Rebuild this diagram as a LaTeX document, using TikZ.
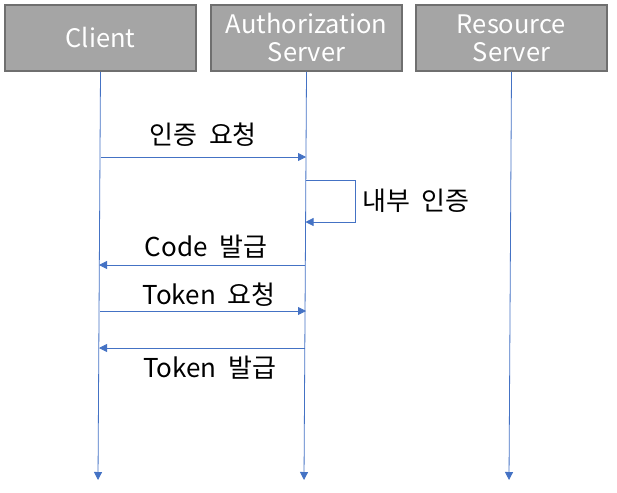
\documentclass[tikz,border=0pt]{standalone}
\usepackage{fontspec}
\setmainfont{Noto Sans CJK KR}
\usetikzlibrary{arrows.meta}
\definecolor{boxfill}{HTML}{A5A5A5}
\definecolor{boxline}{HTML}{6F6F6F}
\definecolor{flow}{HTML}{4472C4}
\newcommand{\wsp}{\hspace{0.45em}}
\tikzset{
  actor/.style={draw=boxline, line width=1.6pt, fill=boxfill, minimum width=191pt, minimum height=66pt,
    text=white, font=\fontsize{25.5}{29}\selectfont, align=center, inner sep=0pt},
  msg/.style={draw=flow, line width=0.8pt, -{Triangle[length=8pt,width=8pt]}},
  lbl/.style={font=\fontsize{26}{30}\selectfont, text=black, inner sep=0pt}
}
\begin{document}
\begin{tikzpicture}[x=1pt,y=-1pt]
\useasboundingbox (0,0) rectangle (617,492);
\node[actor] (client) at (100.5,38) {Client};
\node[actor] (auth) at (306.5,38) {Authorization\\[-1pt]Server};
\node[actor] (res) at (511.5,38) {Resource\\[-1pt]Server};
\coordinate (cb) at (98,480);
\coordinate (ab) at (304,480);
\coordinate (rb) at (509,480);
\draw[msg] (client.south) -- (cb);
\draw[msg] (auth.south) -- (ab);
\draw[msg] (res.south) -- (rb);
% messages
\coordinate (c1) at (100.5,157); \coordinate (a1) at (306,157);
\draw[msg] (c1) -- (a1) node[lbl, midway, above=10pt] {인증\wsp 요청};
\coordinate (a2s) at (306,180); \coordinate (l1) at (355,180); \coordinate (l2) at (355,222); \coordinate (a2e) at (305.5,222);
\draw[msg] (a2s) -- (l1) -- (l2) -- (a2e);
\node[lbl, anchor=west] (self) at (362,201) {내부\wsp 인증};
\coordinate (a3) at (305,265); \coordinate (c3) at (99,265);
\draw[msg] (a3) -- (c3) node[lbl, midway, above=6pt, xshift=4pt] {Code\wsp 발급};
\coordinate (c4) at (100,311); \coordinate (a4) at (306,311);
\draw[msg] (c4) -- (a4) node[lbl, midway, above=4pt, xshift=6pt] {Token\wsp 요청};
\coordinate (a5) at (304.5,348); \coordinate (c5) at (99,348);
\draw[msg] (a5) -- (c5) node[lbl, midway, below=8pt, xshift=8pt] {Token\wsp 발급};
\end{tikzpicture}
\end{document}
